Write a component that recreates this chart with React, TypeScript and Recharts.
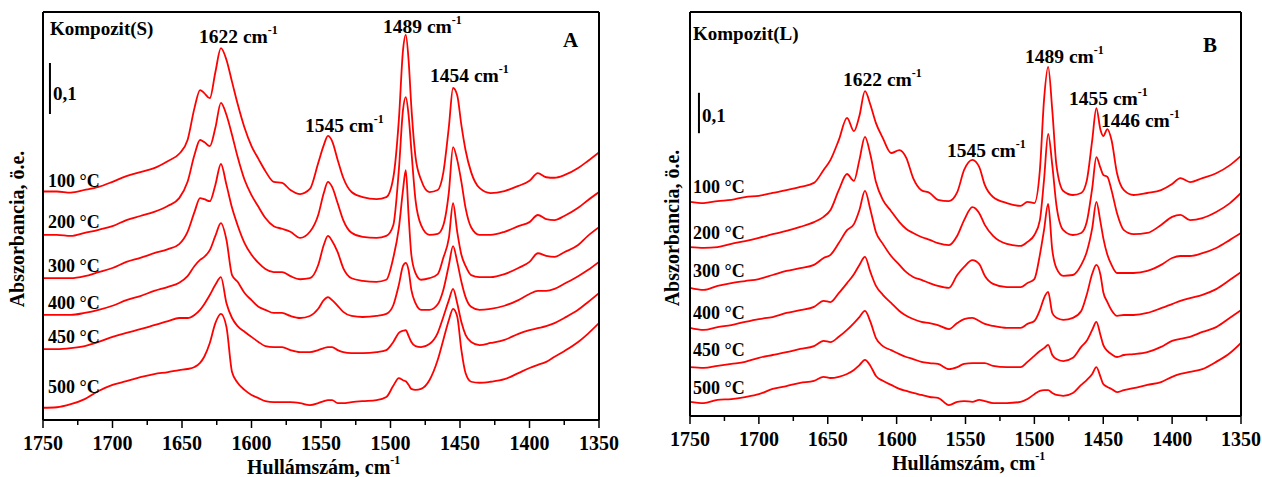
import React from "react";
import { LineChart, Line, XAxis, YAxis, ReferenceLine } from "recharts";

// Panel A: Kompozit(S)
const wavenumbersA = [
  1750, 1740, 1730, 1720, 1710, 1700, 1690, 1680, 1670, 1660,
  1652, 1646, 1641, 1637, 1634, 1630, 1626, 1622, 1618, 1614,
  1610, 1605, 1600, 1595, 1590, 1584, 1578, 1572, 1565, 1558,
  1552, 1548, 1545, 1542, 1538, 1534, 1528, 1520, 1510, 1503,
  1498, 1494, 1491, 1489, 1487, 1485, 1482, 1478, 1472, 1466,
  1462, 1458, 1455, 1452, 1449, 1446, 1442, 1436, 1428, 1418,
  1408, 1400, 1394, 1388, 1382, 1375, 1365, 1358, 1350,
];
const a100 = [
  0.448, 0.448, 0.446, 0.451, 0.457, 0.467, 0.478, 0.486, 0.494, 0.508,
  0.522, 0.549, 0.612, 0.647, 0.641, 0.631, 0.682, 0.729, 0.706, 0.663,
  0.62, 0.573, 0.537, 0.512, 0.488, 0.467, 0.465, 0.451, 0.443, 0.453,
  0.504, 0.539, 0.557, 0.547, 0.51, 0.475, 0.447, 0.437, 0.433, 0.437,
  0.475, 0.588, 0.725, 0.755, 0.706, 0.614, 0.516, 0.471, 0.447, 0.451,
  0.485, 0.575, 0.651, 0.637, 0.578, 0.529, 0.486, 0.455, 0.445, 0.449,
  0.459, 0.469, 0.484, 0.476, 0.475, 0.48, 0.494, 0.508, 0.525,
];
const a200 = [
  0.363, 0.363, 0.361, 0.367, 0.373, 0.38, 0.392, 0.4, 0.408, 0.42,
  0.435, 0.467, 0.52, 0.549, 0.545, 0.537, 0.573, 0.622, 0.598, 0.559,
  0.516, 0.471, 0.441, 0.418, 0.396, 0.38, 0.375, 0.369, 0.357, 0.369,
  0.402, 0.445, 0.467, 0.457, 0.425, 0.392, 0.367, 0.359, 0.357, 0.361,
  0.382, 0.49, 0.608, 0.633, 0.598, 0.529, 0.431, 0.382, 0.363, 0.365,
  0.382, 0.447, 0.535, 0.51, 0.467, 0.416, 0.378, 0.363, 0.363, 0.369,
  0.38, 0.388, 0.402, 0.394, 0.392, 0.4, 0.416, 0.431, 0.447,
];
const a300 = [
  0.278, 0.278, 0.278, 0.282, 0.29, 0.298, 0.31, 0.318, 0.327, 0.335,
  0.345, 0.369, 0.408, 0.435, 0.433, 0.429, 0.461, 0.502, 0.461, 0.416,
  0.382, 0.347, 0.324, 0.308, 0.296, 0.29, 0.29, 0.282, 0.276, 0.278,
  0.304, 0.343, 0.361, 0.351, 0.329, 0.298, 0.278, 0.273, 0.271, 0.275,
  0.318, 0.376, 0.451, 0.49, 0.402, 0.324, 0.288, 0.275, 0.278, 0.286,
  0.318, 0.357, 0.425, 0.369, 0.324, 0.302, 0.284, 0.28, 0.28, 0.286,
  0.298, 0.31, 0.327, 0.322, 0.32, 0.329, 0.343, 0.361, 0.378,
];
const a400 = [
  0.206, 0.206, 0.206, 0.21, 0.216, 0.224, 0.235, 0.243, 0.253, 0.261,
  0.269, 0.282, 0.302, 0.314, 0.32, 0.333, 0.361, 0.386, 0.353, 0.284,
  0.271, 0.249, 0.235, 0.222, 0.216, 0.21, 0.21, 0.204, 0.2, 0.204,
  0.218, 0.235, 0.241, 0.235, 0.224, 0.212, 0.204, 0.202, 0.204, 0.208,
  0.225, 0.265, 0.302, 0.308, 0.294, 0.255, 0.229, 0.216, 0.216, 0.227,
  0.255, 0.304, 0.341, 0.31, 0.271, 0.241, 0.222, 0.216, 0.218, 0.224,
  0.235, 0.247, 0.253, 0.253, 0.257, 0.267, 0.282, 0.294, 0.31,
];
const a450 = [
  0.139, 0.139, 0.141, 0.145, 0.153, 0.163, 0.171, 0.178, 0.186, 0.194,
  0.2, 0.2, 0.206, 0.216, 0.227, 0.245, 0.265, 0.28, 0.229, 0.2,
  0.184, 0.173, 0.163, 0.153, 0.145, 0.143, 0.143, 0.137, 0.133, 0.133,
  0.137, 0.141, 0.143, 0.143, 0.137, 0.133, 0.131, 0.131, 0.133, 0.137,
  0.153, 0.171, 0.175, 0.176, 0.165, 0.153, 0.145, 0.143, 0.149, 0.171,
  0.202, 0.235, 0.257, 0.229, 0.192, 0.167, 0.153, 0.147, 0.151, 0.157,
  0.169, 0.176, 0.18, 0.184, 0.19, 0.2, 0.216, 0.231, 0.249,
];
const a500 = [
  0.024, 0.025, 0.031, 0.041, 0.057, 0.069, 0.076, 0.084, 0.09, 0.094,
  0.098, 0.1, 0.104, 0.112, 0.124, 0.151, 0.19, 0.208, 0.182, 0.094,
  0.073, 0.059, 0.049, 0.043, 0.037, 0.035, 0.035, 0.035, 0.033, 0.029,
  0.033, 0.037, 0.039, 0.039, 0.033, 0.033, 0.035, 0.037, 0.039, 0.045,
  0.067, 0.082, 0.078, 0.076, 0.069, 0.061, 0.059, 0.061, 0.078, 0.118,
  0.157, 0.196, 0.218, 0.203, 0.137, 0.092, 0.075, 0.073, 0.075, 0.08,
  0.092, 0.102, 0.108, 0.114, 0.124, 0.135, 0.153, 0.169, 0.19,
];

// Panel B: Kompozit(L)
const wavenumbersB = [
  1750, 1740, 1730, 1720, 1710, 1700, 1690, 1680, 1670, 1660,
  1653, 1648, 1642, 1636, 1631, 1627, 1623, 1619, 1615, 1610,
  1604, 1598, 1593, 1588, 1582, 1576, 1570, 1562, 1556, 1551,
  1545, 1540, 1536, 1530, 1520, 1510, 1505, 1500, 1496, 1493,
  1490, 1487, 1484, 1479, 1472, 1466, 1462, 1458, 1455, 1452,
  1450, 1447, 1444, 1440, 1435, 1428, 1418, 1408, 1400, 1394,
  1387, 1378, 1368, 1358, 1350,
];
const b100 = [
  0.53, 0.527, 0.532, 0.535, 0.542, 0.545, 0.552, 0.559, 0.567, 0.577,
  0.609, 0.634, 0.683, 0.738, 0.705, 0.743, 0.804, 0.77, 0.725, 0.688,
  0.651, 0.658, 0.639, 0.589, 0.559, 0.552, 0.535, 0.532, 0.554, 0.609,
  0.634, 0.616, 0.572, 0.542, 0.527, 0.52, 0.53, 0.527, 0.609, 0.782,
  0.864, 0.757, 0.621, 0.557, 0.547, 0.552, 0.582, 0.683, 0.762, 0.708,
  0.693, 0.71, 0.683, 0.601, 0.559, 0.547, 0.552, 0.559, 0.574, 0.589,
  0.579, 0.589, 0.601, 0.621, 0.644,
];
const b200 = [
  0.418, 0.416, 0.418, 0.426, 0.433, 0.441, 0.45, 0.458, 0.468, 0.48,
  0.493, 0.51, 0.559, 0.599, 0.582, 0.634, 0.691, 0.646, 0.579, 0.535,
  0.507, 0.48, 0.463, 0.453, 0.443, 0.436, 0.428, 0.423, 0.446, 0.485,
  0.517, 0.502, 0.473, 0.446, 0.426, 0.421, 0.431, 0.448, 0.485, 0.584,
  0.698, 0.621, 0.522, 0.46, 0.448, 0.453, 0.48, 0.564, 0.641, 0.614,
  0.597, 0.592, 0.559, 0.502, 0.46, 0.45, 0.453, 0.473, 0.493, 0.498,
  0.485, 0.49, 0.505, 0.527, 0.552,
];
const b300 = [
  0.317, 0.312, 0.322, 0.329, 0.334, 0.339, 0.349, 0.359, 0.366, 0.374,
  0.391, 0.399, 0.428, 0.46, 0.475, 0.51, 0.557, 0.51, 0.455, 0.426,
  0.396, 0.374, 0.356, 0.344, 0.337, 0.329, 0.322, 0.317, 0.349, 0.369,
  0.386, 0.376, 0.347, 0.327, 0.319, 0.319, 0.329, 0.339, 0.399, 0.46,
  0.525, 0.411, 0.366, 0.347, 0.349, 0.374, 0.406, 0.465, 0.53, 0.48,
  0.441, 0.399, 0.374, 0.354, 0.354, 0.354, 0.359, 0.374, 0.391, 0.396,
  0.396, 0.403, 0.416, 0.436, 0.453,
];
const b400 = [
  0.218, 0.213, 0.22, 0.225, 0.233, 0.24, 0.245, 0.255, 0.262, 0.27,
  0.285, 0.282, 0.304, 0.329, 0.351, 0.374, 0.394, 0.356, 0.322, 0.3,
  0.28, 0.26, 0.248, 0.24, 0.233, 0.23, 0.225, 0.215, 0.23, 0.24,
  0.243, 0.235, 0.228, 0.223, 0.218, 0.218, 0.228, 0.235, 0.262, 0.292,
  0.307, 0.255, 0.243, 0.238, 0.243, 0.26, 0.3, 0.352, 0.374, 0.349,
  0.307, 0.282, 0.262, 0.248, 0.25, 0.25, 0.255, 0.267, 0.277, 0.285,
  0.292, 0.3, 0.314, 0.337, 0.356,
];
const b450 = [
  0.121, 0.119, 0.124, 0.129, 0.134, 0.144, 0.151, 0.158, 0.166, 0.173,
  0.186, 0.183, 0.196, 0.213, 0.23, 0.245, 0.26, 0.233, 0.193, 0.173,
  0.163, 0.153, 0.146, 0.141, 0.134, 0.131, 0.129, 0.116, 0.121, 0.129,
  0.131, 0.131, 0.131, 0.124, 0.121, 0.121, 0.134, 0.149, 0.161, 0.168,
  0.176, 0.151, 0.141, 0.136, 0.144, 0.171, 0.186, 0.213, 0.233, 0.2,
  0.176, 0.161, 0.153, 0.146, 0.151, 0.153, 0.158, 0.171, 0.186, 0.191,
  0.196, 0.208, 0.22, 0.243, 0.262,
];
const b500 = [
  0.035, 0.032, 0.04, 0.042, 0.047, 0.054, 0.067, 0.074, 0.082, 0.087,
  0.097, 0.094, 0.097, 0.104, 0.114, 0.126, 0.139, 0.124, 0.099, 0.087,
  0.077, 0.067, 0.062, 0.057, 0.052, 0.047, 0.045, 0.027, 0.035, 0.037,
  0.035, 0.04, 0.037, 0.032, 0.032, 0.035, 0.042, 0.054, 0.062, 0.064,
  0.064, 0.057, 0.052, 0.05, 0.057, 0.077, 0.089, 0.104, 0.121, 0.097,
  0.079, 0.072, 0.067, 0.059, 0.064, 0.069, 0.077, 0.084, 0.097, 0.104,
  0.109, 0.116, 0.134, 0.156, 0.181,
];

const temperatures = ["100 °C", "200 °C", "300 °C", "400 °C", "450 °C", "500 °C"];
const xTicks = [
  1750, 1725, 1700, 1675, 1650, 1625, 1600, 1575, 1550,
  1525, 1500, 1475, 1450, 1425, 1400, 1375, 1350,
];
const yTicksA = [0, 0.1, 0.2, 0.3, 0.4, 0.5, 0.6, 0.7, 0.8];
const yTicksB = [0, 0.1, 0.2, 0.3, 0.4, 0.5, 0.6, 0.7, 0.8, 0.9, 1.0];

const FONT = "'Liberation Serif', 'Times New Roman', serif";
const RED = "#ff0000";

function buildRows(wn: number[], series: number[][]) {
  return wn.map((w, i) => {
    const row: Record<string, number> = { wn: w };
    series.forEach((s, k) => {
      row[`t${k}`] = s[i];
    });
    return row;
  });
}

const rowsA = buildRows(wavenumbersA, [a100, a200, a300, a400, a450, a500]);
const rowsB = buildRows(wavenumbersB, [b100, b200, b300, b400, b450, b500]);

function BottomTick(props: any) {
  const { x, y, payload } = props;
  const major = payload.value % 50 === 0;
  return (
    <g>
      <line x1={x} x2={x} y1={y} y2={y + (major ? 8 : 5)} stroke="#000" strokeWidth={1.5} />
      {major && (
        <text x={x} y={y + 29.5} textAnchor="middle" fontFamily={FONT} fontWeight="bold" fontSize={20} fill="#000">
          {payload.value}
        </text>
      )}
    </g>
  );
}

interface PanelProps {
  left: number;
  width: number;
  margin: { top: number; left: number; right: number; bottom: number };
  rows: Record<string, number>[];
  yMax: number;
  yTicks: number[];
  bar: { x: number; y0: number; y1: number };
}

function Panel({ left, width, margin, rows, yMax, yTicks, bar }: PanelProps) {
  return (
    <div style={{ position: "absolute", left, top: 0 }}>
      <LineChart width={width} height={477} data={rows} margin={margin}>
        <XAxis
          dataKey="wn"
          type="number"
          domain={[1350, 1750]}
          reversed
          ticks={xTicks}
          interval={0}
          tick={<BottomTick />}
          tickLine={false}
          tickSize={0}
          tickMargin={0}
          height={30}
          stroke="#000"
          axisLine={{ stroke: "#000", strokeWidth: 2 }}
          allowDataOverflow
        />
        <XAxis
          xAxisId="top"
          orientation="top"
          mirror
          dataKey="wn"
          type="number"
          domain={[1350, 1750]}
          reversed
          ticks={xTicks}
          interval={0}
          tick={false}
          tickSize={3}
          stroke="#000"
          axisLine={{ stroke: "#000", strokeWidth: 2 }}
        />
        <YAxis
          type="number"
          domain={[0, yMax]}
          ticks={yTicks}
          interval={0}
          mirror
          tick={false}
          tickSize={4}
          stroke="#000"
          axisLine={{ stroke: "#000", strokeWidth: 2 }}
          allowDataOverflow
        />
        <YAxis
          yAxisId="right"
          orientation="right"
          type="number"
          domain={[0, yMax]}
          ticks={yTicks}
          interval={0}
          mirror
          tick={false}
          tickSize={3}
          stroke="#000"
          axisLine={{ stroke: "#000", strokeWidth: 2 }}
        />
        {temperatures.map((t, k) => (
          <Line
            key={t}
            dataKey={`t${k}`}
            type="monotone"
            stroke={RED}
            strokeWidth={1.8}
            dot={false}
            isAnimationActive={false}
          />
        ))}
        <ReferenceLine
          segment={[
            { x: bar.x, y: bar.y0 },
            { x: bar.x, y: bar.y1 },
          ]}
          stroke="#000"
          strokeWidth={2}
        />
      </LineChart>
    </div>
  );
}

function PeakLabel({ x, y, value }: { x: number; y: number; value: string }) {
  return (
    <text x={x} y={y} fontFamily={FONT} fontWeight="bold" fontSize={19.5} fill="#000">
      {value} cm
      <tspan dy={-9} fontSize={12}>
        -1
      </tspan>
    </text>
  );
}

const textStyle = { fontFamily: FONT, fontWeight: "bold" as const, fill: "#000" };

// label placement (layout only)
const peaksA = [
  { value: "1622", x: 199, y: 43 },
  { value: "1545", x: 305, y: 132 },
  { value: "1489", x: 383, y: 33 },
  { value: "1454", x: 430, y: 82 },
];
const peaksB = [
  { value: "1622", x: 843, y: 86 },
  { value: "1545", x: 947, y: 157 },
  { value: "1489", x: 1025, y: 63 },
  { value: "1455", x: 1069, y: 105 },
  { value: "1446", x: 1101, y: 127 },
];
const tempYA = [187, 228, 272, 309, 343, 393];
const tempYB = [193, 239, 277, 319, 356, 394];

export default function App() {
  return (
    <div style={{ position: "absolute", left: 0, top: 0, width: 1262, height: 477, background: "#fff", overflow: "hidden" }}>
      <Panel
        left={0}
        width={620}
        margin={{ top: 12, left: 43, right: 21, bottom: 27 }}
        rows={rowsA}
        yMax={0.8}
        yTicks={yTicksA}
        bar={{ x: 1745, y0: 0.6, y1: 0.7 }}
      />
      <Panel
        left={640}
        width={622}
        margin={{ top: 12, left: 50, right: 21, bottom: 31 }}
        rows={rowsB}
        yMax={1.0}
        yTicks={yTicksB}
        bar={{ x: 1743.5, y0: 0.7, y1: 0.8 }}
      />
      <svg width={1262} height={477} style={{ position: "absolute", left: 0, top: 0, pointerEvents: "none" }}>
        {/* panel A */}
        <text x={50} y={35} fontSize={19} {...textStyle}>Kompozit(S)</text>
        <text x={53} y={100} fontSize={19} {...textStyle}>0,1</text>
        <text x={563} y={47} fontSize={21} {...textStyle}>A</text>
        {peaksA.map((p) => (
          <PeakLabel key={p.value} {...p} />
        ))}
        {temperatures.map((t, k) => (
          <text key={t} x={48} y={tempYA[k]} fontSize={18} {...textStyle}>{t}</text>
        ))}
        <text transform="translate(24,229) rotate(-90)" textAnchor="middle" fontSize={20} {...textStyle}>
          Abszorbancia, ö.e.
        </text>
        <text x={247} y={474} fontSize={20} {...textStyle}>
          Hullámszám, cm
          <tspan dy={-10} fontSize={12}>-1</tspan>
        </text>

        {/* panel B */}
        <text x={693} y={40} fontSize={19} {...textStyle}>Kompozit(L)</text>
        <text x={702} y={122} fontSize={19} {...textStyle}>0,1</text>
        <text x={1203} y={52} fontSize={21} {...textStyle}>B</text>
        {peaksB.map((p) => (
          <PeakLabel key={p.value} {...p} />
        ))}
        {temperatures.map((t, k) => (
          <text key={t} x={693} y={tempYB[k]} fontSize={18} {...textStyle}>{t}</text>
        ))}
        <text transform="translate(679,228) rotate(-90)" textAnchor="middle" fontSize={20} {...textStyle}>
          Abszorbancia, ö.e.
        </text>
        <text x={892} y={470} fontSize={20} {...textStyle}>
          Hullámszám, cm
          <tspan dy={-10} fontSize={12}>-1</tspan>
        </text>
      </svg>
    </div>
  );
}
